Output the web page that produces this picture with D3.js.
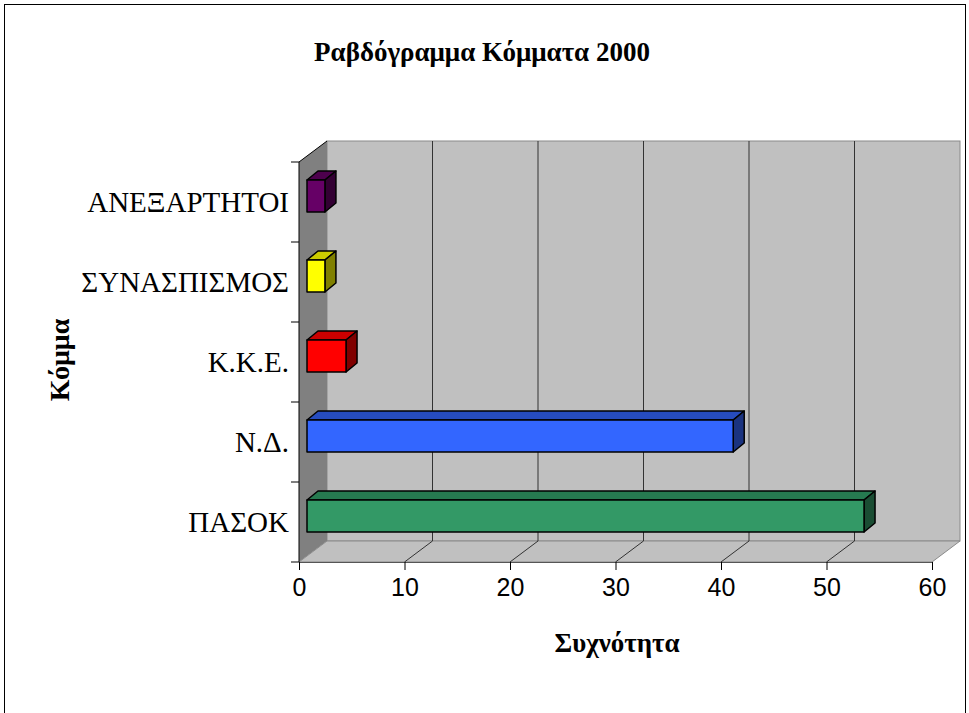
<!DOCTYPE html>
<html>
<head>
<meta charset="utf-8">
<script src="https://cdn.jsdelivr.net/npm/d3@7"></script>
<style>
  body { margin: 0; background: #fff; }
  .serif { font-family: "Liberation Serif", "Times New Roman", serif; }
  .sans { font-family: "Liberation Sans", Arial, sans-serif; }
</style>
</head>
<body>
<div id="chart"></div>
<script>
// data
const parties = ["ΠΑΣΟΚ", "Ν.Δ.", "Κ.Κ.Ε.", "ΣΥΝΑΣΠΙΣΜΟΣ", "ΑΝΕΞΑΡΤΗΤΟΙ"];
const counts = [52.8, 40.4, 3.7, 1.7, 1.7];
const xTicks = [0, 10, 20, 30, 40, 50, 60];
const frontColors = ["#339966", "#3366ff", "#ff0000", "#ffff00", "#660066"];
const topColors = ["#267a50", "#264cbf", "#cc0000", "#cccc00", "#4d004d"];
const sideColors = ["#1a4d33", "#1a3380", "#800000", "#808000", "#330033"];

const width = 969, height = 713;
const depth = { dx: 28, dy: -21 };   // back wall offset
const barOff = { dx: 8, dy: -6 };    // bar front offset
const barDepth = { dx: 11, dy: -9 };

const svg = d3.select("#chart")
    .append("svg")
    .attr("width", width)
    .attr("height", height);

// outer frame
svg.append("rect")
    .attr("x", 4.5).attr("y", 4.5)
    .attr("width", 961).attr("height", 720)
    .attr("fill", "none").attr("stroke", "#000");

const x = d3.scaleLinear().domain([0, 60]).range([299, 932]);
const y = d3.scaleBand().domain(parties).range([562, 162])
    .paddingInner(0.6).paddingOuter(0.3);

const x0 = x(0), x1 = x(60), yTop = 162, yBot = 562;

// walls
const g = svg.append("g");
// back wall
g.append("rect")
    .attr("x", x0 + depth.dx).attr("y", yTop + depth.dy)
    .attr("width", x1 - x0).attr("height", yBot - yTop)
    .attr("fill", "#c0c0c0").attr("stroke", "#8a8a8a");
// left wall
g.append("path")
    .attr("d", `M${x0},${yTop} L${x0 + depth.dx},${yTop + depth.dy} L${x0 + depth.dx},${yBot + depth.dy} L${x0},${yBot} Z`)
    .attr("fill", "#808080").attr("stroke", "none");
// floor
g.append("path")
    .attr("d", `M${x0},${yBot} L${x0 + depth.dx},${yBot + depth.dy} L${x1 + depth.dx},${yBot + depth.dy} L${x1},${yBot} Z`)
    .attr("fill", "#c0c0c0").attr("stroke", "#8a8a8a");
g.append("line")
    .attr("x1", x0).attr("y1", yTop)
    .attr("x2", x0 + depth.dx).attr("y2", yTop + depth.dy)
    .attr("stroke", "#000");

// gridlines (back wall + floor)
g.selectAll(".grid")
    .data(xTicks.slice(1, -1))
    .enter().append("path")
    .attr("class", "grid")
    .attr("d", d => `M${x(d)},${yBot} L${x(d) + depth.dx},${yBot + depth.dy} L${x(d) + depth.dx},${yTop + depth.dy}`)
    .attr("fill", "none")
    .attr("stroke", "#333");

// bars
const bars = svg.append("g").selectAll("g")
    .data(parties)
    .enter().append("g")
    .attr("stroke", "#000")
    .attr("stroke-width", 1.5)
    .attr("stroke-linejoin", "round");

const bw = y.bandwidth();
bars.each(function (d, i) {
    const el = d3.select(this);
    const fx = x0 + barOff.dx, fy = y(d) + barOff.dy;
    const len = x(counts[i]) - x0;
    // top face
    el.append("path")
        .attr("d", `M${fx},${fy} L${fx + barDepth.dx},${fy + barDepth.dy} L${fx + len + barDepth.dx},${fy + barDepth.dy} L${fx + len},${fy} Z`)
        .attr("fill", topColors[i]);
    // side face
    el.append("path")
        .attr("d", `M${fx + len},${fy} L${fx + len + barDepth.dx},${fy + barDepth.dy} L${fx + len + barDepth.dx},${fy + bw + barDepth.dy} L${fx + len},${fy + bw} Z`)
        .attr("fill", sideColors[i]);
    // front face
    el.append("rect")
        .attr("x", fx).attr("y", fy)
        .attr("width", len).attr("height", bw)
        .attr("fill", frontColors[i]);
});

// axes
const xAxis = d3.axisBottom(x).tickValues(xTicks).tickSize(8).tickPadding(8);
const gx = svg.append("g")
    .attr("transform", `translate(0,${yBot})`)
    .call(xAxis);
gx.select(".domain").attr("stroke", "#555");
gx.selectAll(".tick line").attr("stroke", "#000");
gx.selectAll("text")
    .attr("class", "sans")
    .attr("font-size", 25)
    .attr("fill", "#000");

// category axis
svg.append("line")
    .attr("x1", x0).attr("y1", yTop).attr("x2", x0).attr("y2", yBot)
    .attr("stroke", "#000");
const step = y.step();
const bounds = parties.map(d => y(d) + bw + step * 0.3).concat([yTop]);
svg.append("g").selectAll("line")
    .data(bounds)
    .enter().append("line")
    .attr("x1", x0 - 8).attr("x2", x0)
    .attr("y1", d => d).attr("y2", d => d)
    .attr("stroke", "#000");

svg.append("g").selectAll("text")
    .data(parties)
    .enter().append("text")
    .attr("class", "serif")
    .attr("x", x0 - 10)
    .attr("y", d => y(d) + bw / 2)
    .attr("dy", "0.35em")
    .attr("text-anchor", "end")
    .attr("font-size", 29)
    .text(d => d);

// titles
svg.append("text")
    .attr("class", "serif")
    .attr("x", 482).attr("y", 61)
    .attr("text-anchor", "middle")
    .attr("font-weight", "bold")
    .attr("font-size", 27)
    .text("Ραβδόγραμμα Κόμματα 2000");

svg.append("text")
    .attr("class", "serif")
    .attr("x", 617).attr("y", 652)
    .attr("text-anchor", "middle")
    .attr("font-weight", "bold")
    .attr("font-size", 27)
    .text("Συχνότητα");

svg.append("text")
    .attr("class", "serif")
    .attr("transform", "translate(69,360) rotate(-90)")
    .attr("text-anchor", "middle")
    .attr("font-weight", "bold")
    .attr("font-size", 28)
    .text("Κόμμα");
</script>
</body>
</html>
